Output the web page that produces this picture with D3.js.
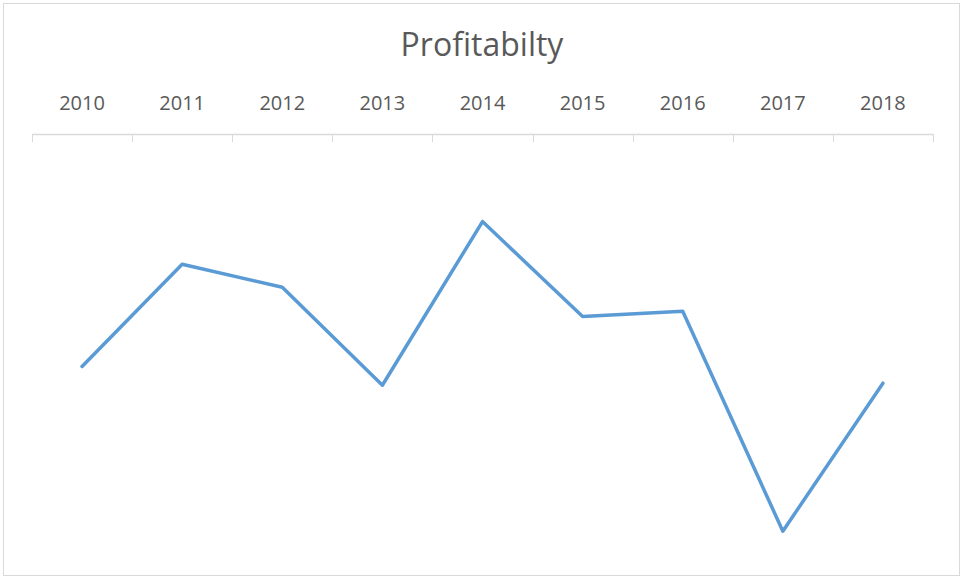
<!DOCTYPE html>
<html>
<head>
<meta charset="utf-8">
<script src="https://cdn.jsdelivr.net/npm/d3@7"></script>
<style>
  html, body { margin: 0; padding: 0; background: #fff; }
  svg { display: block; }
</style>
</head>
<body>
<svg id="chart" width="963" height="579"></svg>
<script>
// Yearly profitability figures (all below zero, so the category axis sits at the top)
const years = ["2010", "2011", "2012", "2013", "2014", "2015", "2016", "2017", "2018"];
const profit = [-22.3, -12.5, -14.7, -24.1, -8.4, -17.5, -17.0, -38.1, -23.9];
const titleText = "Profitabilty";

const W = 963, H = 579;
const margin = { top: 134, right: 30, bottom: 28, left: 32 };
const fontFamily = "'Open Sans', 'Noto Sans', sans-serif";

const svg = d3.select("#chart");

// Outer chart frame
svg.append("rect")
  .attr("x", 3.5).attr("y", 3.5)
  .attr("width", W - 7).attr("height", H - 7)
  .attr("fill", "#fff")
  .attr("stroke", "#d9d9d9")
  .attr("stroke-width", 1);

const x = d3.scaleBand()
  .domain(years)
  .range([margin.left, W - margin.right]);

const y = d3.scaleLinear()
  .domain([-40, 0])
  .range([H - margin.bottom, margin.top]);

// Title
svg.append("text")
  .attr("x", 482)
  .attr("y", 56)
  .attr("text-anchor", "middle")
  .attr("font-family", fontFamily)
  .attr("font-size", 32)
  .attr("fill", "#595959")
  .text(titleText);

// Category axis along the zero line, tick marks between categories
const axisG = svg.append("g").attr("transform", `translate(0,${y(0)})`);
axisG.append("line")
  .attr("x1", x.range()[0]).attr("x2", x.range()[1])
  .attr("y1", 0.5).attr("y2", 0.5)
  .attr("stroke", "#d9d9d9").attr("stroke-width", 1.5);

const boundaries = years.map(d => x(d)).concat([x.range()[1]]);
axisG.selectAll("line.tick")
  .data(boundaries)
  .join("line")
  .attr("class", "tick")
  .attr("x1", d => Math.round(d) + 0.5).attr("x2", d => Math.round(d) + 0.5)
  .attr("y1", 0).attr("y2", 8)
  .attr("stroke", "#d9d9d9").attr("stroke-width", 1);

svg.selectAll("text.cat")
  .data(years)
  .join("text")
  .attr("class", "cat")
  .attr("x", d => x(d) + x.bandwidth() / 2)
  .attr("y", 110)
  .attr("text-anchor", "middle")
  .attr("font-family", fontFamily)
  .attr("font-size", 20)
  .attr("fill", "#595959")
  .text(d => d);

// Profit line
const line = d3.line()
  .x((d, i) => x(years[i]) + x.bandwidth() / 2)
  .y(d => y(d));

svg.append("path")
  .datum(profit)
  .attr("d", line)
  .attr("fill", "none")
  .attr("stroke", "#5b9bd5")
  .attr("stroke-width", 3.5)
  .attr("stroke-linejoin", "round")
  .attr("stroke-linecap", "round");
</script>
</body>
</html>
